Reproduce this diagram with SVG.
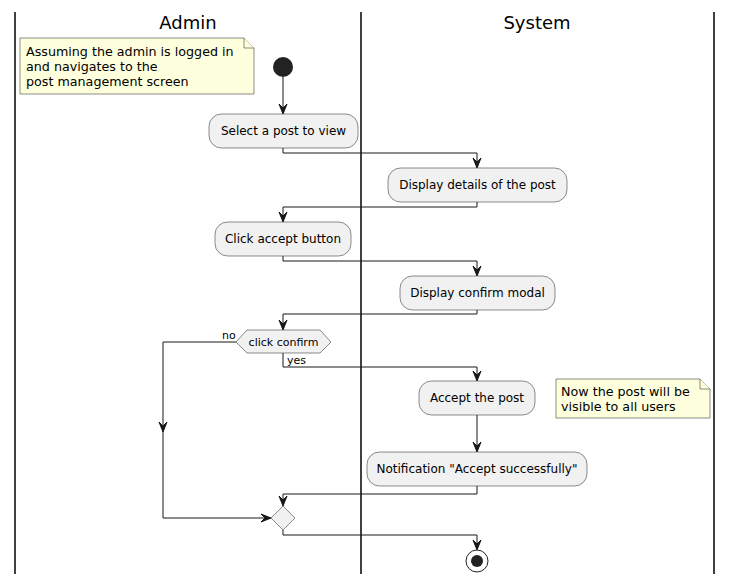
<svg xmlns="http://www.w3.org/2000/svg" width="733" height="583" viewBox="0 0 733 583">
<style>
.lane{stroke:#000;stroke-width:1.5}
.title{font-family:"DejaVu Sans",sans-serif;font-size:18px;fill:#000;text-anchor:middle}
.act{fill:#F1F1F1;stroke:#181818;stroke-width:0.5}
.at{font-family:"DejaVu Sans",sans-serif;font-size:12px;fill:#000;text-anchor:middle}
.note{fill:#FEFFDD;stroke:#181818;stroke-width:0.5}
.nt{font-family:"DejaVu Sans",sans-serif;font-size:12.7px;fill:#000}
.lbl{font-family:"DejaVu Sans",sans-serif;font-size:11px;fill:#000}
.ln{fill:none;stroke:#181818;stroke-width:1}
.ah{fill:#181818;stroke:#181818;stroke-width:1}
</style>
<defs>
<polygon id="ad" class="ah" points="-4,-10 0,0 4,-10 0,-6"/>
<polygon id="ar" class="ah" points="-10,-4 0,0 -10,4 -6,0"/>
</defs>
<rect width="733" height="583" fill="#FFFFFF"/>
<g id="lanes">
<line class="lane" x1="15" y1="12" x2="15" y2="574"/>
<line class="lane" x1="361" y1="12" x2="361" y2="574"/>
<line class="lane" x1="714" y1="12" x2="714" y2="574"/>
<text class="title" x="188" y="29">Admin</text>
<text class="title" x="537" y="29">System</text>
</g>
<g id="connectors">
<line class="ln" x1="283" y1="77" x2="283" y2="113"/>
<use href="#ad" x="283" y="114"/>
<polyline class="ln" points="283,148 283,153 477,153 477,167"/>
<use href="#ad" x="477" y="168"/>
<polyline class="ln" points="477,202 477,207 283,207 283,221"/>
<use href="#ad" x="283" y="222"/>
<polyline class="ln" points="283,256 283,261 477,261 477,275"/>
<use href="#ad" x="477" y="276"/>
<polyline class="ln" points="477,310 477,314 283,314 283,329"/>
<use href="#ad" x="283" y="330"/>
<polyline class="ln" points="236,342 163,342 163,518 270,518"/>
<use href="#ad" x="163" y="432"/>
<use href="#ar" x="271" y="518"/>
<polyline class="ln" points="283,353 283,367 477,367 477,380"/>
<use href="#ad" x="477" y="381"/>
<line class="ln" x1="477" y1="415" x2="477" y2="451"/>
<use href="#ad" x="477" y="452"/>
<polyline class="ln" points="477,486 477,494 283,494 283,505"/>
<use href="#ad" x="283" y="506"/>
<polyline class="ln" points="283,530 283,535 477,535 477,549"/>
<use href="#ad" x="477" y="550"/>
<text class="lbl" x="222" y="339">no</text>
<text class="lbl" x="287" y="364">yes</text>
</g>
<g id="note1">
<path class="note" d="M20,38 L244,38 L254,48 L254,94 L20,94 Z"/>
<path class="note" d="M244,38 L244,48 L254,48" fill="none"/>
<text class="nt" x="26" y="56">Assuming the admin is logged in</text>
<text class="nt" x="26" y="71">and navigates to the</text>
<text class="nt" x="26" y="86">post management screen</text>
</g>
<g id="start">
<circle cx="283" cy="67" r="10" fill="#222222"/>
</g>
<g id="select">
<rect class="act" x="209" y="114" width="149" height="34" rx="12.5"/>
<text class="at" x="283.5" y="135">Select a post to view</text>
</g>
<g id="details">
<rect class="act" x="388" y="168" width="179" height="34" rx="12.5"/>
<text class="at" x="477.5" y="189">Display details of the post</text>
</g>
<g id="click">
<rect class="act" x="215" y="222" width="136" height="34" rx="12.5"/>
<text class="at" x="283" y="243">Click accept button</text>
</g>
<g id="modal">
<rect class="act" x="400" y="276" width="155" height="34" rx="12.5"/>
<text class="at" x="477.5" y="297">Display confirm modal</text>
</g>
<g id="decision">
<polygon class="act" points="236,342 247,330 320,330 331,342 320,353 247,353"/>
<text class="lbl" x="283.5" y="346" text-anchor="middle">click confirm</text>
</g>
<g id="accept">
<rect class="act" x="419" y="381" width="116" height="34" rx="12.5"/>
<text class="at" x="477" y="402">Accept the post</text>
</g>
<g id="note2">
<path class="note" d="M556,379 L700,379 L710,389 L710,418 L556,418 Z"/>
<path class="note" d="M700,379 L700,389 L710,389" fill="none"/>
<text class="nt" x="561" y="396">Now the post will be</text>
<text class="nt" x="561" y="411">visible to all users</text>
</g>
<g id="notify">
<rect class="act" x="367" y="452" width="220" height="34" rx="12.5"/>
<text class="at" x="477" y="473">Notification "Accept successfully"</text>
</g>
<g id="merge">
<polygon class="act" points="283,506 295,518 283,530 271,518"/>
</g>
<g id="stop">
<circle cx="477" cy="561" r="11" fill="none" stroke="#222222" stroke-width="1"/>
<circle cx="477" cy="561" r="6" fill="#222222"/>
</g>
</svg>
